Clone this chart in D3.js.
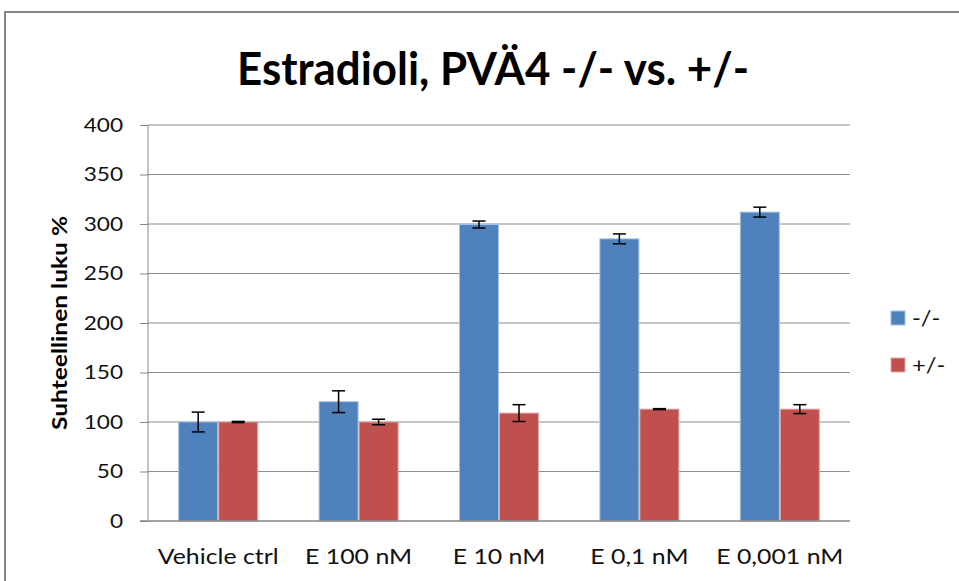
<!DOCTYPE html>
<html><head><meta charset="utf-8">
<script src="https://cdn.jsdelivr.net/npm/d3@7/dist/d3.min.js"></script>
<style>body{margin:0;background:#fff}svg{display:block}</style>
</head><body>
<script>
const categories = ["Vehicle ctrl", "E 100 nM", "E 10 nM", "E 0,1 nM", "E 0,001 nM"];
const seriesNames = ["-/-", "+/-"];
const valuesMinus = [100, 120.5, 299.5, 285, 312];
const errMinus = [10, 11, 3.5, 5, 5];
const valuesPlus = [100, 100, 109, 113, 113];
const errPlus = [0.6, 2.8, 8.5, 0.5, 4.5];
const yTicks = [0, 50, 100, 150, 200, 250, 300, 350, 400];
const colors = ["#4F81BD", "#C0504D"];
const strokes = ["#A7C0DE", "#DFA9A7"];

(function () {
const W = 959, H = 581;
const font = "Lato, 'Open Sans', sans-serif";
const stretch = 1.13;
const svg = d3.select("body").append("svg").attr("width", W).attr("height", H);

function widen(sel) {
  sel.each(function () {
    const w = this.getComputedTextLength();
    d3.select(this).attr("textLength", w * stretch).attr("lengthAdjust", "spacingAndGlyphs");
  });
}

// chart border
svg.append("path").attr("d", `M5,${H} L5,12 L${W},12`).attr("fill", "none")
  .attr("stroke", "#868686").attr("stroke-width", 2);

const pL = 148, pR = 850, pT = 125, pB = 521;
const y = d3.scaleLinear().domain([0, 400]).range([pB, pT]);
const x0 = d3.scaleBand().domain(categories).range([pL, pR]).paddingInner(0.43).paddingOuter(0.215);
const x1 = d3.scaleBand().domain(seriesNames).range([0, x0.bandwidth()]);

// gridlines
svg.append("g").selectAll("line").data(yTicks.filter(d => d > 0)).join("line")
  .attr("x1", pL).attr("x2", pR).attr("y1", d => y(d)).attr("y2", d => y(d))
  .attr("stroke", "#8c8c8c").attr("stroke-width", 1);

// y axis
const yAxis = d3.axisLeft(y).tickValues(yTicks).tickSize(8).tickPadding(17);
const gy = svg.append("g").attr("transform", `translate(${pL},0)`).call(yAxis);
gy.select(".domain").attr("stroke", "#868686").attr("d", `M0,${pT}V${pB}`);
gy.selectAll(".tick line").attr("stroke", "#868686");
gy.selectAll(".tick text").attr("font-family", font).attr("font-size", 20).attr("fill", "#111")
  .call(widen);

// bars
const data = categories.map((c, i) => ({c, vals: [
  {s: seriesNames[0], v: valuesMinus[i], e: errMinus[i], k: 0},
  {s: seriesNames[1], v: valuesPlus[i], e: errPlus[i], k: 1}]}));
const g = svg.append("g").selectAll("g").data(data).join("g")
  .attr("transform", d => `translate(${x0(d.c)},0)`);
g.selectAll("rect").data(d => d.vals).join("rect")
  .attr("x", d => x1(d.s) + 0.5).attr("width", x1.bandwidth() - 1)
  .attr("y", d => y(d.v)).attr("height", d => y(0) - y(d.v))
  .attr("fill", d => colors[d.k]).attr("stroke", d => strokes[d.k]).attr("stroke-width", 1);

// x axis baseline
svg.append("line").attr("x1", pL - 8).attr("x2", pR).attr("y1", pB).attr("y2", pB)
  .attr("stroke", "#868686").attr("stroke-width", 1.5);

// error bars
const eb = g.selectAll("g.err").data(d => d.vals).join("g").attr("class", "err")
  .attr("transform", d => `translate(${x1(d.s) + x1.bandwidth() / 2},0)`);
eb.append("line").attr("y1", d => y(d.v + d.e)).attr("y2", d => y(d.v - d.e))
  .attr("stroke", "#000").attr("stroke-width", 1.5);
eb.selectAll("line.cap").data(d => [d.v + d.e, d.v - d.e]).join("line").attr("class", "cap")
  .attr("x1", -6.5).attr("x2", 6.5).attr("y1", d => y(d)).attr("y2", d => y(d))
  .attr("stroke", "#000").attr("stroke-width", 1.5);

// x labels
svg.append("g").selectAll("text").data(categories).join("text")
  .attr("x", d => x0(d) + x0.bandwidth() / 2).attr("y", 564)
  .attr("text-anchor", "middle").attr("font-family", font).attr("font-size", 22).attr("fill", "#111")
  .text(d => d).call(widen);

// y title
svg.append("text").attr("transform", `translate(67,${(pT + pB) / 2}) rotate(-90)`)
  .attr("text-anchor", "middle").attr("font-family", font).attr("font-weight", "bold")
  .attr("font-size", 20).attr("textLength", 214).attr("lengthAdjust", "spacingAndGlyphs")
  .text("Suhteellinen luku %");

// title
svg.append("text").attr("x", 493).attr("y", 85).attr("text-anchor", "middle")
  .attr("font-family", font).attr("font-weight", "bold").attr("font-size", 46)
  .attr("textLength", 512).attr("lengthAdjust", "spacingAndGlyphs")
  .text("Estradioli, PVÄ4 -/- vs. +/-");

// legend
const leg = svg.append("g").selectAll("g").data(seriesNames).join("g")
  .attr("transform", (d, i) => `translate(891,${311 + i * 47})`);
leg.append("rect").attr("width", 14).attr("height", 14)
  .attr("fill", (d, i) => colors[i]).attr("stroke", (d, i) => strokes[i]);
leg.append("text").attr("x", 21).attr("y", 15).attr("font-family", font).attr("font-size", 21)
  .attr("fill", "#111").text(d => d).call(widen);
})();
</script>
</body></html>
